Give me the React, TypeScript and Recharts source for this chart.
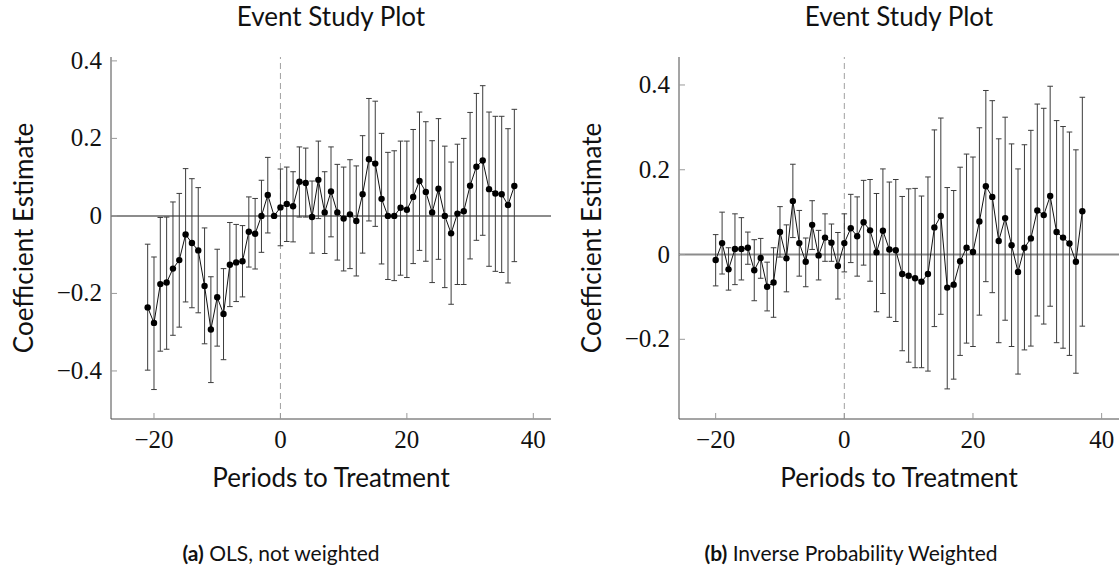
import React from "react";
import {
  ComposedChart,
  Line,
  ErrorBar,
  XAxis,
  YAxis,
  ReferenceLine,
} from "recharts";

// periods relative to treatment
const olsPeriods = [
  -21, -20, -19, -18, -17, -16, -15, -14, -13, -12, -11, -10, -9, -8, -7, -6, -5, -4, -3, -2, -1,
  0, 1, 2, 3, 4, 5, 6, 7, 8, 9, 10, 11, 12, 13, 14, 15, 16, 17, 18, 19, 20, 21, 22, 23, 24, 25,
  26, 27, 28, 29, 30, 31, 32, 33, 34, 35, 36, 37,
];
const olsEst = [
  -0.236, -0.276, -0.176, -0.172, -0.136, -0.114, -0.048, -0.07, -0.089, -0.181, -0.293, -0.21,
  -0.253, -0.126, -0.12, -0.117, -0.041, -0.046, 0.0, 0.054, 0.0, 0.022, 0.031, 0.025, 0.088,
  0.085, -0.003, 0.093, 0.009, 0.063, 0.009, -0.007, 0.004, -0.013, 0.056, 0.146, 0.135, 0.044,
  0.0, 0.0, 0.021, 0.016, 0.049, 0.09, 0.062, 0.009, 0.07, 0.0, -0.045, 0.006, 0.012, 0.078,
  0.127, 0.143, 0.069, 0.058, 0.056, 0.028, 0.077,
];
const olsLow = [
  -0.398, -0.448, -0.349, -0.344, -0.308, -0.287, -0.222, -0.237, -0.25, -0.33, -0.43, -0.336,
  -0.371, -0.234, -0.221, -0.209, -0.132, -0.137, -0.094, -0.044, null, -0.077, -0.066, -0.067,
  -0.003, -0.003, -0.096, -0.007, -0.097, -0.054, -0.114, -0.142, -0.136, -0.155, -0.096, -0.013,
  -0.027, -0.124, -0.164, -0.167, -0.153, -0.159, -0.123, -0.089, -0.117, -0.172, -0.112, -0.185,
  -0.228, -0.177, -0.177, -0.111, -0.063, -0.05, -0.13, -0.143, -0.146, -0.173, -0.118,
];
const olsHigh = [
  -0.073, -0.106, -0.004, -0.003, 0.036, 0.058, 0.122, 0.096, 0.073, -0.031, -0.157, -0.086,
  -0.136, -0.017, -0.022, -0.025, 0.049, 0.045, 0.092, 0.151, null, 0.121, 0.126, 0.114, 0.178,
  0.175, 0.09, 0.193, 0.114, 0.178, 0.133, 0.126, 0.145, 0.129, 0.207, 0.303, 0.296, 0.213,
  0.164, 0.168, 0.193, 0.193, 0.223, 0.268, 0.243, 0.194, 0.251, 0.18, 0.139, 0.185, 0.2, 0.267,
  0.316, 0.336, 0.268, 0.257, 0.257, 0.225, 0.275,
];

const ipwPeriods = [
  -20, -19, -18, -17, -16, -15, -14, -13, -12, -11, -10, -9, -8, -7, -6, -5, -4, -3, -2, -1, 0,
  1, 2, 3, 4, 5, 6, 7, 8, 9, 10, 11, 12, 13, 14, 15, 16, 17, 18, 19, 20, 21, 22, 23, 24, 25, 26,
  27, 28, 29, 30, 31, 32, 33, 34, 35, 36, 37,
];
const ipwEst = [
  -0.013, 0.027, -0.035, 0.013, 0.013, 0.016, -0.037, -0.008, -0.076, -0.066, 0.053, -0.009,
  0.126, 0.027, -0.017, 0.07, -0.002, 0.04, 0.028, -0.027, 0.027, 0.062, 0.043, 0.076, 0.057,
  0.005, 0.056, 0.012, 0.01, -0.046, -0.05, -0.056, -0.064, -0.046, 0.064, 0.091, -0.078, -0.071,
  -0.016, 0.016, 0.006, 0.078, 0.161, 0.136, 0.032, 0.086, 0.022, -0.041, 0.016, 0.038, 0.104,
  0.093, 0.138, 0.053, 0.04, 0.026, -0.017, 0.102,
];
const ipwLow = [
  -0.074, -0.046, -0.084, -0.071, -0.06, -0.023, -0.109, -0.056, -0.133, -0.148, -0.006, -0.088,
  0.04, -0.051, -0.076, 0.012, -0.06, -0.016, -0.016, -0.105, -0.041, -0.019, -0.051, -0.025,
  -0.063, -0.135, -0.092, -0.148, -0.158, -0.227, -0.254, -0.267, -0.267, -0.275, -0.17, -0.141,
  -0.317, -0.294, -0.238, -0.209, -0.217, -0.143, -0.064, -0.09, -0.208, -0.155, -0.217, -0.282,
  -0.225, -0.216, -0.145, -0.164, -0.122, -0.208, -0.221, -0.238, -0.28, -0.169,
];
const ipwHigh = [
  0.047, 0.1, 0.016, 0.096, 0.087, 0.053, 0.035, 0.038, -0.018, 0.016, 0.113, 0.07, 0.213, 0.104,
  0.039, 0.127, 0.057, 0.096, 0.072, 0.052, 0.096, 0.142, 0.136, 0.175, 0.177, 0.144, 0.202,
  0.171, 0.177, 0.137, 0.155, 0.156, 0.138, 0.183, 0.294, 0.322, 0.158, 0.151, 0.206, 0.237,
  0.23, 0.299, 0.387, 0.363, 0.273, 0.324, 0.261, 0.202, 0.259, 0.293, 0.355, 0.345, 0.397,
  0.316, 0.302, 0.289, 0.247, 0.371,
];

const xTicks = [-20, 0, 20, 40];
const olsYTicks = [-0.4, -0.2, 0, 0.2, 0.4];
const ipwYTicks = [-0.2, 0, 0.2, 0.4];

const SERIF = "'Liberation Serif', 'DejaVu Serif', serif";
const SANS = "Lato, 'Noto Sans', sans-serif";
const FRAME = "#4a4a4a";
const TICK = "#9a9a9a";

const fmtX = (v: number) => (v < 0 ? "\u2212" + Math.abs(v) : String(v));
const fmtY = (v: number) =>
  v === 0 ? "0" : (v < 0 ? "\u2212" : "") + Math.abs(v).toFixed(1);

const BottomTick = ({ x, y, payload }: any) => (
  <g>
    <line x1={x} y1={y} x2={x} y2={y - 6} stroke={TICK} />
    <text x={x} y={y + 29} textAnchor="middle" fontFamily={SERIF} fontSize={25} fill="#111">
      {fmtX(payload.value)}
    </text>
  </g>
);
const TopTick = ({ x, y }: any) => <line x1={x} y1={y} x2={x} y2={y + 6} stroke={TICK} />;
const LeftTick = ({ x, y, payload }: any) => (
  <g>
    <line x1={x} y1={y} x2={x + 6} y2={y} stroke={TICK} />
    <text x={x - 9} y={y + 8} textAnchor="end" fontFamily={SERIF} fontSize={25} fill="#111">
      {fmtY(payload.value)}
    </text>
  </g>
);
const RightTick = ({ x, y }: any) => <line x1={x} y1={y} x2={x - 6} y2={y} stroke={TICK} />;

function Panel(props: {
  left: number;
  periods: number[];
  est: number[];
  low: (number | null)[];
  high: (number | null)[];
  xDomain: [number, number];
  yDomain: [number, number];
  yTicks: number[];
  marginLeft: number;
  marginRight: number;
}) {
  const data = props.periods.map((p, i) => {
    const lo = props.low[i];
    const hi = props.high[i];
    return {
      p,
      est: props.est[i],
      err: lo == null || hi == null ? null : [props.est[i] - lo, hi - props.est[i]],
    };
  });
  return (
    <div style={{ position: "absolute", left: props.left, top: 0 }}>
      <ComposedChart
        width={560}
        height={570}
        data={data}
        margin={{ top: 57, right: props.marginRight, left: props.marginLeft, bottom: 121 }}
      >
        <XAxis
          dataKey="p"
          type="number"
          domain={props.xDomain}
          allowDataOverflow
          ticks={xTicks}
          interval={0}
          height={30}
          tickSize={0}
          tickMargin={0}
          tickLine={false}
          axisLine={{ stroke: FRAME }}
          tick={<BottomTick />}
        />
        <XAxis
          xAxisId="t"
          orientation="top"
          type="number"
          domain={props.xDomain}
          allowDataOverflow
          ticks={xTicks}
          interval={0}
          height={0}
          tickSize={0}
          tickMargin={0}
          tickLine={false}
          axisLine={{ stroke: FRAME }}
          tick={<TopTick />}
        />
        <YAxis
          type="number"
          domain={props.yDomain}
          allowDataOverflow
          ticks={props.yTicks}
          interval={0}
          width={60}
          tickSize={0}
          tickMargin={0}
          tickLine={false}
          axisLine={{ stroke: FRAME }}
          tick={<LeftTick />}
        />
        <YAxis
          yAxisId="r"
          orientation="right"
          type="number"
          domain={props.yDomain}
          allowDataOverflow
          ticks={props.yTicks}
          interval={0}
          width={0}
          tickSize={0}
          tickMargin={0}
          tickLine={false}
          axisLine={{ stroke: FRAME }}
          tick={<RightTick />}
        />
        <ReferenceLine x={0} stroke="#a0a0a0" strokeDasharray="6 4" />
        <ReferenceLine y={0} stroke="#8c8c8c" strokeWidth={2} />
        <Line
          dataKey="est"
          stroke="#111"
          strokeWidth={1}
          dot={{ r: 3.2, fill: "#000", stroke: "#000", strokeWidth: 0 }}
          activeDot={false}
          isAnimationActive={false}
        >
          <ErrorBar dataKey="err" width={2.8} stroke="#3c3c3c" strokeWidth={1} direction="y" />
        </Line>
      </ComposedChart>
    </div>
  );
}

const center = (x: number, y: number, extra?: React.CSSProperties): React.CSSProperties => ({
  position: "absolute",
  left: x,
  top: y,
  transform: "translate(-50%, -50%)",
  whiteSpace: "nowrap",
  fontFamily: SANS,
  color: "#111",
  ...extra,
});

export default function App() {
  return (
    <div
      style={{
        position: "absolute",
        left: 0,
        top: 0,
        width: 1120,
        height: 570,
        background: "#fff",
        overflow: "hidden",
      }}
    >
      <Panel
        left={0}
        periods={olsPeriods}
        est={olsEst}
        low={olsLow}
        high={olsHigh}
        xDomain={[-26.8, 42.8]}
        yDomain={[-0.524, 0.41]}
        yTicks={olsYTicks}
        marginLeft={51}
        marginRight={9}
      />
      <Panel
        left={560}
        periods={ipwPeriods}
        est={ipwEst}
        low={ipwLow}
        high={ipwHigh}
        xDomain={[-25.7, 42.7]}
        yDomain={[-0.388, 0.466]}
        yTicks={ipwYTicks}
        marginLeft={59}
        marginRight={1}
      />

      <div style={center(331, 16, { fontSize: 26 })}>Event Study Plot</div>
      <div style={center(899, 16, { fontSize: 26 })}>Event Study Plot</div>

      <div style={center(23, 238, { fontSize: 26, transform: "translate(-50%, -50%) rotate(-90deg)" })}>
        Coefficient Estimate
      </div>
      <div style={center(591, 238, { fontSize: 26, transform: "translate(-50%, -50%) rotate(-90deg)" })}>
        Coefficient Estimate
      </div>

      <div style={center(331, 477, { fontSize: 26 })}>Periods to Treatment</div>
      <div style={center(899, 477, { fontSize: 26 })}>Periods to Treatment</div>

      <div style={center(281, 552, { fontSize: 21 })}>
        <b>(a)</b> OLS, not weighted
      </div>
      <div style={center(851, 552, { fontSize: 21 })}>
        <b>(b)</b> Inverse Probability Weighted
      </div>
    </div>
  );
}
